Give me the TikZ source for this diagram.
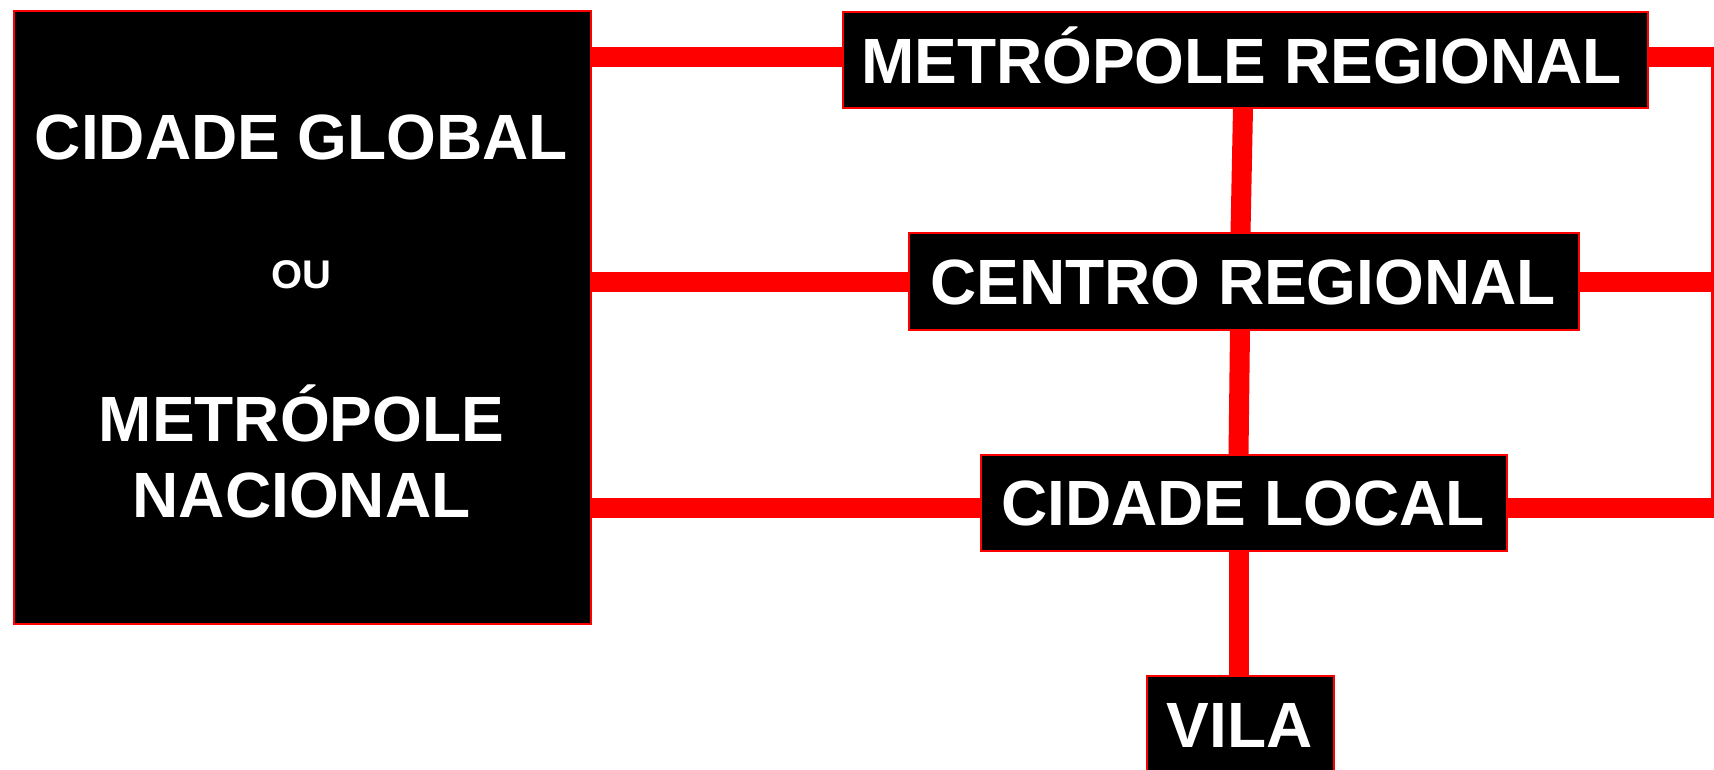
\documentclass[tikz,border=0pt]{standalone}
\usepackage{fontspec}
\setmainfont{Liberation Sans}
\begin{document}
\begin{tikzpicture}[x=1pt,y=-1pt,
  box/.style={draw=red,line width=2pt,fill=black,inner sep=0pt,anchor=north west},
  lbl/.style={text=white,font=\bfseries\fontsize{64}{70}\selectfont,inner sep=0pt,anchor=base},
  small/.style={text=white,font=\bfseries\fontsize{40}{44}\selectfont,inner sep=0pt,anchor=base},
  link/.style={draw=red,line width=20pt},
  thin/.style={draw=red,line width=3pt}]
\useasboundingbox (0,0) rectangle (1714,769);
% connector coordinates on the right
\coordinate (r1) at (1712.5,57);
\coordinate (r2) at (1712.5,282);
\coordinate (r3) at (1712.5,508);
% boxes
\node[box,minimum width=577pt,minimum height=613pt] (big) at (13,10) {};
\node[box,minimum width=805pt,minimum height=96pt] (metro) at (842,11) {};
\node[box,minimum width=670pt,minimum height=97pt] (centro) at (908,232) {};
\node[box,minimum width=526pt,minimum height=96pt] (local) at (980,454) {};
\node[box,minimum width=187pt,minimum height=96pt] (vila) at (1146,675) {};
% horizontal connectors
\draw[link] (big.east |- r1) -- (metro.west |- r1);
\draw[link] (big.east |- r2) -- (centro.west |- r2);
\draw[link] (big.east |- r3) -- (local.west |- r3);
\draw[link] (metro.east |- r1) -- (r1);
\draw[link] (centro.east |- r2) -- (r2);
\draw[link] (local.east |- r3) -- (r3);
\draw[thin] ([yshift=10pt]r1) -- ([yshift=-10pt]r3);
% vertical connectors
\draw[link] ([xshift=-2.5pt,yshift=1pt]metro.south) -- ([xshift=-3.5pt,yshift=-1pt]centro.north);
\draw[link] ([xshift=-4pt,yshift=1pt]centro.south) -- ([xshift=-5.5pt,yshift=-1pt]local.north);
\draw[link] ([xshift=-5.5pt,yshift=1pt]local.south) -- ([xshift=-2pt,yshift=-1pt]vila.north);
% texts
\node[lbl] (t1) at (301.5,159) {CIDADE GLOBAL};
\node[small] (t2) at (301.5,288) {OU};
\node[lbl] (t3) at (301.5,441) {METRÓPOLE};
\node[lbl] (t4) at (301.5,517) {NACIONAL};
\node[lbl] (tm) at (1241.5,83) {METRÓPOLE REGIONAL};
\node[lbl] (tc) at (1243,304) {CENTRO REGIONAL};
\node[lbl] (tl) at (1243,525.5) {CIDADE LOCAL};
\node[lbl] (tv) at (1239.5,747) {VILA};
\end{tikzpicture}
\end{document}
